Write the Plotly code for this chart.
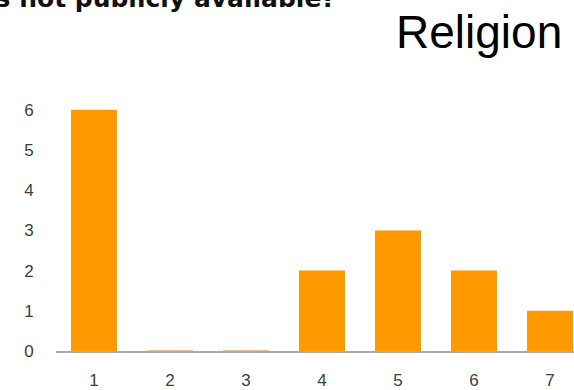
import plotly.graph_objects as go

# Survey responses per rating (1-7)
categories = ["1", "2", "3", "4", "5", "6", "7"]
counts = [6, 0, 0, 2, 3, 2, 1]
y_ticks = [0, 1, 2, 3, 4, 5, 6]

question_tail = "is not publicly available?"
section_title = "Religion"

W, H = 574, 390
M_L, M_R, M_T, M_B = 56, 0, 90, 36
PX_PER_UNIT = 40.67
plot_h = H - M_T - M_B
plot_w = W - M_L - M_R

BAR_COLOR = "#FF9900"
TICK_COLOR = "#3d3d3d"

fig = go.Figure(
    go.Bar(
        x=categories,
        y=counts,
        marker=dict(
            color=BAR_COLOR,
            line=dict(
                color="rgba(214,160,90,0.9)",
                width=[0 if v else 1.5 for v in counts],
            ),
        ),
        hoverinfo="skip",
    )
)

fig.update_layout(
    width=W,
    height=H,
    margin=dict(l=M_L, r=M_R, t=M_T, b=M_B, pad=0),
    paper_bgcolor="white",
    plot_bgcolor="white",
    bargap=0.395,
    showlegend=False,
    font=dict(family="Liberation Sans, Arial, sans-serif", color=TICK_COLOR),
)

fig.update_xaxes(
    type="category",
    range=[-0.5, -0.5 + plot_w / 76.0],
    showgrid=False,
    zeroline=False,
    showline=True,
    linecolor="#ABABAB",
    linewidth=2,
    layer="below traces",
    ticks="outside",
    ticklen=13,
    tickcolor="rgba(0,0,0,0)",
    tickfont=dict(size=17, color=TICK_COLOR),
    fixedrange=True,
)

fig.update_yaxes(
    range=[0, plot_h / PX_PER_UNIT],
    tickvals=y_ticks,
    showgrid=False,
    zeroline=False,
    showline=False,
    ticks="outside",
    ticklen=18,
    tickcolor="rgba(0,0,0,0)",
    tickfont=dict(size=17, color=TICK_COLOR),
    fixedrange=True,
)


def px_x(px):
    return (px - M_L) / plot_w


def px_y(py):
    return (H - M_B - py) / plot_h


# Question text running off the top edge
fig.add_annotation(
    text=f"<b>{question_tail}</b>",
    xref="paper", yref="paper",
    x=px_x(338), y=px_y(14),
    xanchor="right", yanchor="bottom",
    showarrow=False,
    font=dict(family="DejaVu Sans, Verdana, sans-serif", size=25, color="#111"),
)

# Section heading at the top right
fig.add_annotation(
    text=section_title,
    xref="paper", yref="paper",
    x=px_x(394), y=px_y(60),
    xanchor="left", yanchor="bottom",
    showarrow=False,
    font=dict(family="Liberation Sans, Arial, sans-serif", size=46, color="#000"),
)

fig.write_html("out.html", config={"displayModeBar": False})
